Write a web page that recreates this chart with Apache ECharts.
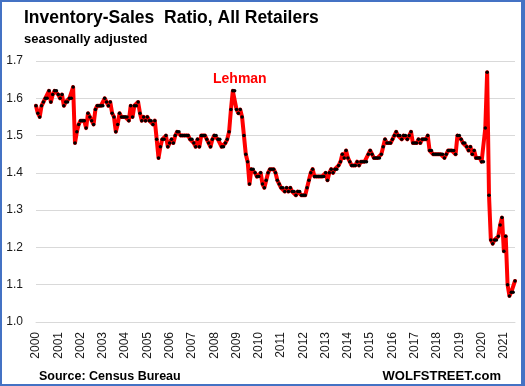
<!DOCTYPE html>
<html>
<head>
<meta charset="utf-8">
<script src="https://cdn.jsdelivr.net/npm/echarts@6/dist/echarts.min.js"></script>
<style>
html,body{margin:0;padding:0;background:#fff;}
#chart{position:absolute;left:0;top:0;width:525px;height:386px;}
#frame{position:absolute;left:0;top:0;width:525px;height:386px;box-sizing:border-box;border:2px solid #4472C4;border-right:4px solid #4472C4;pointer-events:none;}
</style>
</head>
<body>
<div id="chart"></div>
<div id="frame"></div>
<script>
// Year tick labels (one label at January of each year)
const yearLabels = ['2000','2001','2002','2003','2004','2005','2006','2007','2008','2009','2010',
  '2011','2012','2013','2014','2015','2016','2017','2018','2019','2020','2021'];
// Y axis ticks
const yTicks = [1.0, 1.1, 1.2, 1.3, 1.4, 1.5, 1.6, 1.7];
// Monthly inventory-sales ratio, Jan 2000 .. Jul 2021 (one row per year)
const ratioValues = [
  1.58,1.56,1.55,1.58,1.59,1.60,1.60,1.62,1.59,1.61,1.62,1.62, // 2000
  1.61,1.60,1.61,1.58,1.59,1.59,1.60,1.60,1.63,1.48,1.51,1.53, // 2001
  1.54,1.54,1.54,1.52,1.56,1.55,1.54,1.53,1.57,1.58,1.58,1.58, // 2002
  1.58,1.60,1.59,1.58,1.59,1.56,1.55,1.51,1.53,1.56,1.55,1.55, // 2003
  1.55,1.55,1.54,1.58,1.55,1.58,1.58,1.59,1.56,1.54,1.55,1.54, // 2004
  1.55,1.54,1.54,1.53,1.54,1.49,1.44,1.47,1.49,1.49,1.50,1.47, // 2005
  1.48,1.49,1.48,1.50,1.51,1.51,1.50,1.50,1.50,1.50,1.50,1.49, // 2006
  1.49,1.48,1.47,1.49,1.47,1.50,1.50,1.50,1.49,1.48,1.47,1.49, // 2007
  1.50,1.50,1.49,1.49,1.47,1.47,1.48,1.49,1.51,1.57,1.62,1.62, // 2008
  1.57,1.56,1.57,1.55,1.50,1.45,1.43,1.37,1.41,1.41,1.40,1.39, // 2009
  1.39,1.40,1.37,1.36,1.38,1.40,1.41,1.41,1.41,1.40,1.38,1.37, // 2010
  1.36,1.36,1.35,1.36,1.35,1.36,1.35,1.35,1.34,1.35,1.35,1.34, // 2011
  1.34,1.34,1.36,1.38,1.40,1.41,1.39,1.39,1.39,1.39,1.39,1.39, // 2012
  1.40,1.38,1.40,1.41,1.40,1.41,1.41,1.42,1.43,1.45,1.44,1.46, // 2013
  1.44,1.43,1.42,1.42,1.42,1.43,1.42,1.43,1.43,1.43,1.43,1.45, // 2014
  1.46,1.45,1.44,1.44,1.44,1.44,1.45,1.47,1.49,1.48,1.48,1.48, // 2015
  1.49,1.50,1.51,1.50,1.50,1.49,1.50,1.50,1.49,1.50,1.51,1.48, // 2016
  1.48,1.48,1.49,1.48,1.49,1.49,1.49,1.50,1.46,1.46,1.45,1.45, // 2017
  1.45,1.45,1.45,1.45,1.44,1.45,1.46,1.46,1.46,1.46,1.45,1.50, // 2018
  1.50,1.49,1.48,1.48,1.47,1.46,1.47,1.45,1.46,1.44,1.44,1.44, // 2019
  1.43,1.43,1.52,1.67,1.34,1.22,1.21,1.22,1.22,1.23,1.26,1.28, // 2020
  1.19,1.23,1.10,1.07,1.08,1.08,1.11                           // 2021
];

const months = ratioValues.map(function (v, i) {
  return yearLabels[Math.floor(i / 12)] + '-' + String(i % 12 + 1).padStart(2, '0');
});

const FONT = 'Liberation Sans';
const chart = echarts.init(document.getElementById('chart'), null, {renderer: 'canvas'});
chart.setOption({
  animation: false,
  backgroundColor: '#ffffff',
  title: [
    {text: 'Inventory-Sales  Ratio, All Retailers', left: 19, top: 4,
     textStyle: {fontFamily: FONT, fontSize: 17.5, fontWeight: 'bold', color: '#000'}},
    {text: 'seasonally adjusted', left: 19, top: 28,
     textStyle: {fontFamily: FONT, fontSize: 13, fontWeight: 'bold', color: '#000'}},
    {text: 'Source: Census Bureau', left: 34, top: 365,
     textStyle: {fontFamily: FONT, fontSize: 12.5, fontWeight: 'bold', color: '#000'}},
    {text: 'WOLFSTREET.com', right: 19, top: 365,
     textStyle: {fontFamily: FONT, fontSize: 13, fontWeight: 'bold', color: '#000'}},
    {text: 'Lehman', left: 208, top: 67,
     textStyle: {fontFamily: FONT, fontSize: 14, fontWeight: 'bold', color: '#FF0000'}}
  ],
  grid: {left: 36, right: 10, top: 61, bottom: 64, containLabel: false},
  xAxis: {
    type: 'category',
    data: months,
    boundaryGap: false,
    axisLine: {show: true, lineStyle: {color: '#D9D9D9', width: 1}},
    axisTick: {show: false},
    splitLine: {show: false},
    axisLabel: {
      rotate: 90,
      margin: 10,
      interval: function (idx) { return idx % 12 === 0; },
      formatter: function (val) { return val.slice(0, 4); },
      fontFamily: FONT, fontSize: 12, color: '#1a1a1a'
    }
  },
  yAxis: {
    type: 'value',
    min: yTicks[0],
    max: yTicks[yTicks.length - 1],
    interval: 0.1,
    axisLine: {show: false},
    axisTick: {show: false},
    splitLine: {show: true, lineStyle: {color: '#D9D9D9', width: 1}},
    axisLabel: {
      margin: 13,
      formatter: function (v) { return v.toFixed(1); },
      fontFamily: FONT, fontSize: 12, color: '#1a1a1a'
    }
  },
  series: [{
    type: 'line',
    data: ratioValues,
    showSymbol: true,
    showAllSymbol: true,
    symbol: 'circle',
    symbolSize: 3.5,
    itemStyle: {color: '#000000', borderWidth: 0},
    lineStyle: {color: '#FF0000', width: 4, join: 'round', cap: 'round'},
    emphasis: {disabled: true}
  }]
});
</script>
</body>
</html>
